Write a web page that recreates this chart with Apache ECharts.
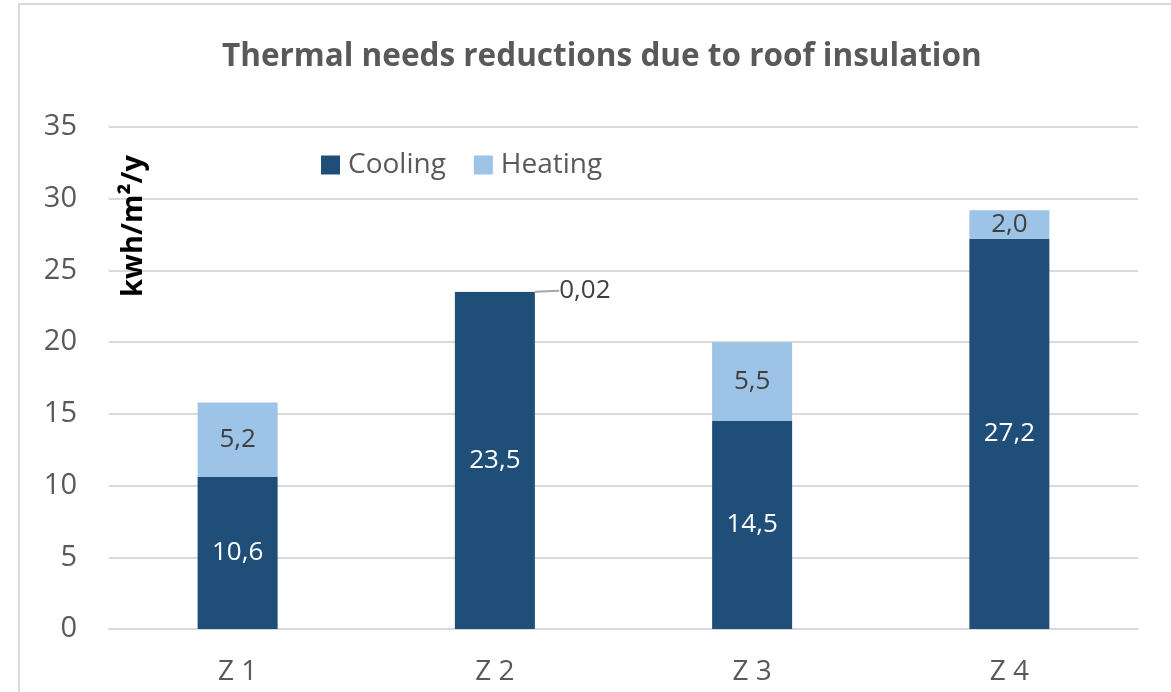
<!DOCTYPE html>
<html>
<head>
<meta charset="utf-8">
<script src="https://cdn.jsdelivr.net/npm/echarts@6/dist/echarts.min.js"></script>
<style>
  html, body { margin: 0; padding: 0; background: #ffffff; }
  #chart { width: 1171px; height: 692px; }
</style>
</head>
<body>
<div id="chart"></div>
<script>
// Zones and yearly savings per zone (kWh/m²/y)
const zones = ['Z 1', 'Z 2', 'Z 3', 'Z 4'];
const cooling = [10.6, 23.5, 14.5, 27.2];
const heating = [5.2, 0.02, 5.5, 2.0];
const yTicks = { min: 0, max: 35, step: 5 };

const FONT = '"Open Sans", "Noto Sans", sans-serif';

// Comma decimal separator; very small values keep two decimals
function fmt(v) {
  const s = Math.abs(v) < 0.1 ? v.toFixed(2) : v.toFixed(1);
  return s.replace('.', ',');
}

const chart = echarts.init(document.getElementById('chart'), null, { renderer: 'canvas' });

chart.setOption({
  animation: false,
  backgroundColor: '#ffffff',
  title: {
    text: 'Thermal needs reductions due to roof insulation',
    left: 217,
    top: 36,
    textStyle: { fontFamily: FONT, fontSize: 31.5, fontWeight: 'bold', color: '#595959' }
  },
  legend: {
    left: 316,
    top: 146,
    itemWidth: 19,
    itemHeight: 19,
    itemGap: 28,
    icon: 'rect',
    textStyle: { fontFamily: FONT, fontSize: 28, color: '#595959', padding: [0, 0, 0, 3] },
    data: ['Cooling', 'Heating']
  },
  grid: { left: 109, right: 33, top: 127, bottom: 63, containLabel: false },
  xAxis: {
    type: 'category',
    data: zones,
    axisLine: { lineStyle: { color: '#d9d9d9', width: 2 } },
    axisTick: { show: false },
    axisLabel: { fontFamily: FONT, fontSize: 28, color: '#595959', margin: 29 }
  },
  yAxis: {
    type: 'value',
    min: yTicks.min,
    max: yTicks.max,
    interval: yTicks.step,
    axisLine: { show: false },
    axisTick: { show: false },
    splitLine: { lineStyle: { color: '#d9d9d9', width: 2 } },
    axisLabel: { fontFamily: FONT, fontSize: 29, color: '#595959', margin: 32 }
  },
  graphic: [
    {
      type: 'rect',
      silent: true,
      shape: { x: 19, y: 4, width: 1200, height: 720 },
      style: { fill: 'none', stroke: '#d9d9d9', lineWidth: 2 }
    },
    {
      type: 'text',
      x: 134,
      y: 226,
      z: 100,
      rotation: Math.PI / 2,
      style: {
        text: 'kwh/m²/y',
        fontFamily: FONT,
        fontSize: 29,
        fontWeight: 'bold',
        fill: '#000000',
        align: 'center',
        verticalAlign: 'middle'
      }
    }
  ],
  series: [
    {
      name: 'Cooling',
      type: 'bar',
      stack: 'total',
      barWidth: 80,
      data: cooling,
      itemStyle: { color: '#1f4e79' },
      label: {
        show: true,
        position: 'inside',
        formatter: p => fmt(p.value),
        fontFamily: FONT,
        fontSize: 26,
        color: '#ffffff'
      }
    },
    {
      name: 'Heating',
      type: 'bar',
      stack: 'total',
      barWidth: 80,
      data: heating,
      itemStyle: { color: '#9dc3e6' },
      label: {
        show: true,
        position: 'inside',
        formatter: p => fmt(p.value),
        fontFamily: FONT,
        fontSize: 26,
        color: '#404040'
      },
      // Values too thin to hold their label get it pushed out to the right with a leader line
      labelLayout: function (params) {
        if (heating[params.dataIndex] < 0.5) {
          return { dx: 90, dy: -1 };
        }
        return {};
      },
      labelLine: {
        show: true,
        lineStyle: { color: '#a6a6a6', width: 2 }
      }
    }
  ]
});
</script>
</body>
</html>
